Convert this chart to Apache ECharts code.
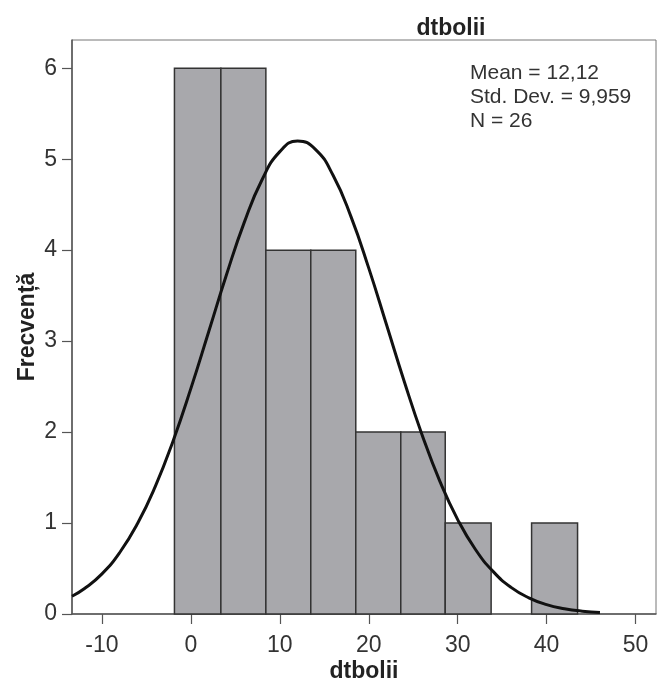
<!DOCTYPE html>
<html><head><meta charset="utf-8">
<script src="https://cdn.jsdelivr.net/npm/echarts@6/dist/echarts.min.js"></script>
<style>html,body{margin:0;padding:0;background:#fff}#c{width:664px;height:682px}</style>
</head><body><div id="c"></div>
<script>
var binEdges = [-1.85, 3.37, 8.43, 13.48, 18.54, 23.6, 28.6, 33.76, 38.31, 43.48];
var counts = [6, 6, 4, 4, 2, 2, 1, 0, 1];
var curveX = [-13.37,-12,-10,-8,-6,-4,-2,0,2,4,6,8,10,12,14,16,18,20,22,24,26,28,30,32,34,36,38,40,42,44,46];
var curveY = [0.195,0.277,0.441,0.676,0.994,1.403,1.903,2.480,3.103,3.729,4.305,4.774,5.083,5.200,5.108,4.820,4.368,3.802,3.179,2.553,1.969,1.458,1.038,0.709,0.466,0.293,0.178,0.103,0.058,0.031,0.017];
var xTicks = [-10, 0, 10, 20, 30, 40, 50];
var yTicks = [0, 1, 2, 3, 4, 5, 6];
var statsLines = ['Mean = 12,12', 'Std. Dev. = 9,959', 'N = 26'];

var barData = counts.map(function (c, i) { return [binEdges[i], binEdges[i + 1], c]; });
var curveData = curveX.map(function (x, i) { return [x, curveY[i]]; });

var FONT = '"Liberation Sans", Arial, sans-serif';
var chart = echarts.init(document.getElementById('c'));
chart.setOption({
  backgroundColor: '#fff',
  animation: false,
  title: {
    text: 'dtbolii', left: 446, top: 12, textAlign: 'center',
    textStyle: { fontFamily: FONT, fontSize: 23, fontWeight: 'bold', color: '#222' }
  },
  graphic: [{
    type: 'text', left: 470, top: 61,
    style: { text: statsLines.join('\n'), fontFamily: FONT, fontSize: 21, lineHeight: 24, fill: '#333' }
  }],
  grid: { left: 72, right: 8, top: 40, bottom: 68, outerBoundsMode: 'none', containLabel: false, show: true, borderColor: '#777', borderWidth: 1, backgroundColor: '#fff' },
  xAxis: {
    type: 'value', min: -13.37, max: 52.3,
    name: 'dtbolii', nameLocation: 'middle', nameGap: 46, nameMoveOverlap: false,
    nameTextStyle: { fontFamily: FONT, fontSize: 23, fontWeight: 'bold', color: '#222' },
    axisLine: { show: true, onZero: false, lineStyle: { color: '#555', width: 1.5 } },
    axisTick: { show: true, length: 10, lineStyle: { color: '#555', width: 1.2 }, customValues: xTicks },
    axisLabel: { fontFamily: FONT, fontSize: 23, color: '#333', margin: 20, customValues: xTicks },
    splitLine: { show: false }
  },
  yAxis: {
    type: 'value', min: 0, max: 6.31,
    name: 'Frecvență', nameLocation: 'middle', nameGap: 33, nameRotate: 90, nameMoveOverlap: false,
    nameTextStyle: { fontFamily: FONT, fontSize: 23, fontWeight: 'bold', color: '#222' },
    axisLine: { show: true, onZero: false, lineStyle: { color: '#555', width: 1.5 } },
    axisTick: { show: true, length: 10, lineStyle: { color: '#555', width: 1.2 }, customValues: yTicks },
    axisLabel: { fontFamily: FONT, fontSize: 23, color: '#333', margin: 15, customValues: yTicks },
    splitLine: { show: false }
  },
  series: [{
    type: 'custom',
    data: barData,
    renderItem: function (params, api) {
      var h = api.value(2);
      if (!h) return null;
      var p0 = api.coord([api.value(0), h]);
      var p1 = api.coord([api.value(1), 0]);
      return {
        type: 'rect',
        shape: { x: p0[0], y: p0[1], width: p1[0] - p0[0], height: p1[1] - p0[1] },
        style: { fill: '#a8a8ac', stroke: '#333', lineWidth: 1.5 }
      };
    },
    encode: { x: [0, 1], y: 2 },
    z: 2
  }, {
    type: 'line', data: curveData, smooth: true, showSymbol: false, symbol: 'none',
    lineStyle: { color: '#111', width: 3 }, z: 3
  }]
});
</script></body></html>
